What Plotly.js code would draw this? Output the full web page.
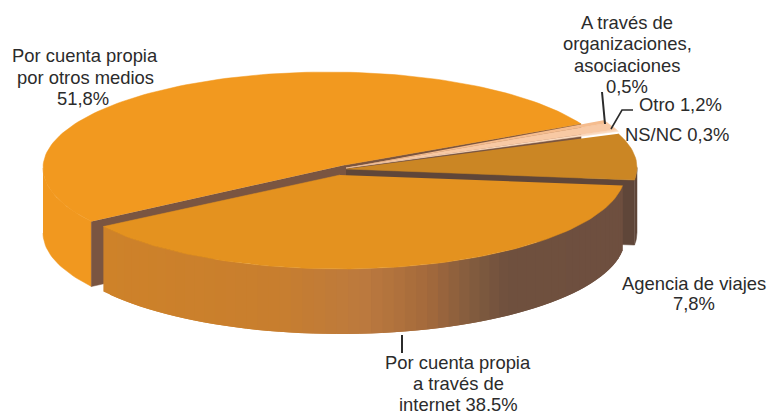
<!DOCTYPE html>
<html>
<head>
<meta charset="utf-8">
<script src="https://cdn.plot.ly/plotly-3.0.1.min.js"></script>
<style>html,body{margin:0;padding:0;background:#fff}#c{width:768px;height:414px}</style>
</head>
<body>
<div id="c"></div>
<script>
// Data (counter-clockwise from the upper right cut)
const categories = ["Por cuenta propia por otros medios", "Por cuenta propia a través de internet", "Agencia de viajes", "NS/NC", "Otro", "A través de organizaciones, asociaciones"];
const values = [51.8, 38.5, 7.8, 0.3, 1.2, 0.5];

const labelLines = ["Por cuenta propia", "por otros medios", "51,8%", "Por cuenta propia", "a través de", "internet 38.5%", "Agencia de viajes", "7,8%", "NS/NC 0,3%", "Otro 1,2%", "A través de", "organizaciones,", "asociaciones", "0,5%"];
const labelX = [85, 85, 83, 458, 458, 458, 694, 694, 677, 680, 627, 627, 627, 627];
const labelY = [55, 77, 98, 362, 383, 404, 283, 303, 134, 104, 22, 43, 65, 86];

// Pie drawing parameters
const startAngle = 27.4, depth = 65;
const geo = [
  {cx:328, cy:168, rx:285, ry:96, tx:345, ty:165},
  {cx:340, cy:173, rx:285, ry:96, tx:340, ty:175},
  {cx:345, cy:167.5, rx:292, ry:96, tx:346, ty:169},
  {cx:345, cy:165, rx:292, ry:96, tx:346, ty:168},
  {cx:345, cy:165, rx:292, ry:96, tx:346, ty:168},
  {cx:345, cy:165, rx:292, ry:96, tx:346, ty:168}
];
const topColors = ["#F2991F", "#E4921F", "#CB8624", "#FBDCC2", "#F8C9A4", "#F5BC8E"];
const cutColor = "#7A5541", darkCut = "#5F4639";
const wallStops = [[0,"#CE8229"],[0.33,"#C87E2E"],[0.5,"#BC7A3E"],[0.62,"#A56A3C"],[0.72,"#7F5A3E"],[0.78,"#6F503E"],[1,"#6E4F3F"]];

// Cumulative sweep from the values
const total = 100;
const ang = []; let a = startAngle;
values.forEach(v => { const a0 = a; a += v / total * 360; ang.push([a0, a]); });

const pt = (g, deg, dy=0) => { const r = deg*Math.PI/180; return [g.cx + g.rx*Math.cos(r), g.cy - g.ry*Math.sin(r) + dy]; };
const arc = (g, a0, a1, dy=0) => { const n = Math.max(2, Math.ceil(Math.abs(a1-a0)/1.5)); const o=[]; for(let i=0;i<=n;i++) o.push(pt(g, a0+(a1-a0)*i/n, dy)); return o; };
const traces = [];
const poly = (pts, color, lw=0.5) => traces.push({type:"scatter", mode:"lines", x:pts.map(p=>p[0]), y:pts.map(p=>p[1]), fill:"toself", fillcolor:color, line:{width:lw, color:color}, hoverinfo:"skip", showlegend:false});
const wall = (g, a0, a1, color, lw) => poly(arc(g,a0,a1).concat(arc(g,a1,a0,depth)), color, lw);
const cut = (g, deg, color) => { const p = pt(g,deg); poly([[g.tx,g.ty],p,[p[0],p[1]+depth],[g.tx,g.ty+depth]], color); };
const sector = (g, a0, a1, color) => poly([[g.tx,g.ty]].concat(arc(g,a0,a1)), color);
const mix = (c1,c2,t) => { const h=c=>[1,3,5].map(i=>parseInt(c.substr(i,2),16)); const A=h(c1),B=h(c2); return "rgb("+A.map((v,i)=>Math.round(v+(B[i]-v)*t)).join(",")+")"; };
const wallColor = t => { for(let i=0;i<wallStops.length-1;i++){ const s=wallStops[i], e=wallStops[i+1]; if(t<=e[0]) return mix(s[1],e[1],(t-s[0])/(e[0]-s[0])); } return wallStops[wallStops.length-1][1]; };

// Largest slice, at the back
wall(geo[0], 180, ang[0][1], "#F1981F");
cut(geo[0], ang[0][0], cutColor);
cut(geo[0], ang[0][1], cutColor);
sector(geo[0], ang[0][0], ang[0][1], topColors[0]);

// Travel agency and the thin slices
wall(geo[2], ang[2][0], 360, darkCut);
cut(geo[2], ang[2][0], darkCut);
sector(geo[2], ang[2][0], ang[2][1], topColors[2]);
[3,4,5].forEach(i => sector(geo[i], ang[i][0], ang[i][1], topColors[i]));

// Internet slice, in front, with its shaded wall (strips overlap so no seams show)
const g1 = geo[1], x0 = pt(g1, ang[1][0])[0], x1 = pt(g1, ang[1][1])[0];
const steps = 60;
const span = ang[1][1]-ang[1][0];
for (let i=0;i<steps;i++){
  const b0 = ang[1][0] + span*i/steps;
  const b1 = ang[1][0] + span*Math.min(i+2,steps)/steps;
  const xm = pt(g1, b0 + span/steps/2)[0];
  wall(g1, b0, b1, wallColor((xm-x0)/(x1-x0)), 0);
}
sector(g1, ang[1][0], ang[1][1], topColors[1]);

// Leader lines
const ink = "#2b2b2b";
const leaders = [
  {type:"line", x0:402, y0:335, x1:402, y1:353},
  {type:"line", x0:602, y0:92, x1:605, y1:124},
  {type:"path", path:"M 633 110 L 622 110 L 611 129"}
].map(s => Object.assign(s, {xref:"x", yref:"y", line:{color:ink, width:s.type==="path"?1.6:2}}));

const annotations = labelLines.map((t,i) => ({text:t, x:labelX[i], y:labelY[i], xref:"x", yref:"y", xanchor:"center", yanchor:"middle", showarrow:false, font:{family:"Liberation Sans, Arial, sans-serif", size:18.4, color:ink}}));

const axis = r => ({range:r, visible:false, fixedrange:true, showgrid:false, zeroline:false});
Plotly.newPlot("c", traces, {
  width:768, height:414, margin:{l:0,r:0,t:0,b:0},
  paper_bgcolor:"#fff", plot_bgcolor:"#fff", showlegend:false,
  xaxis:axis([0,768]), yaxis:axis([414,0]),
  shapes:leaders, annotations
}, {displayModeBar:false, staticPlot:true});
</script>
</body>
</html>
